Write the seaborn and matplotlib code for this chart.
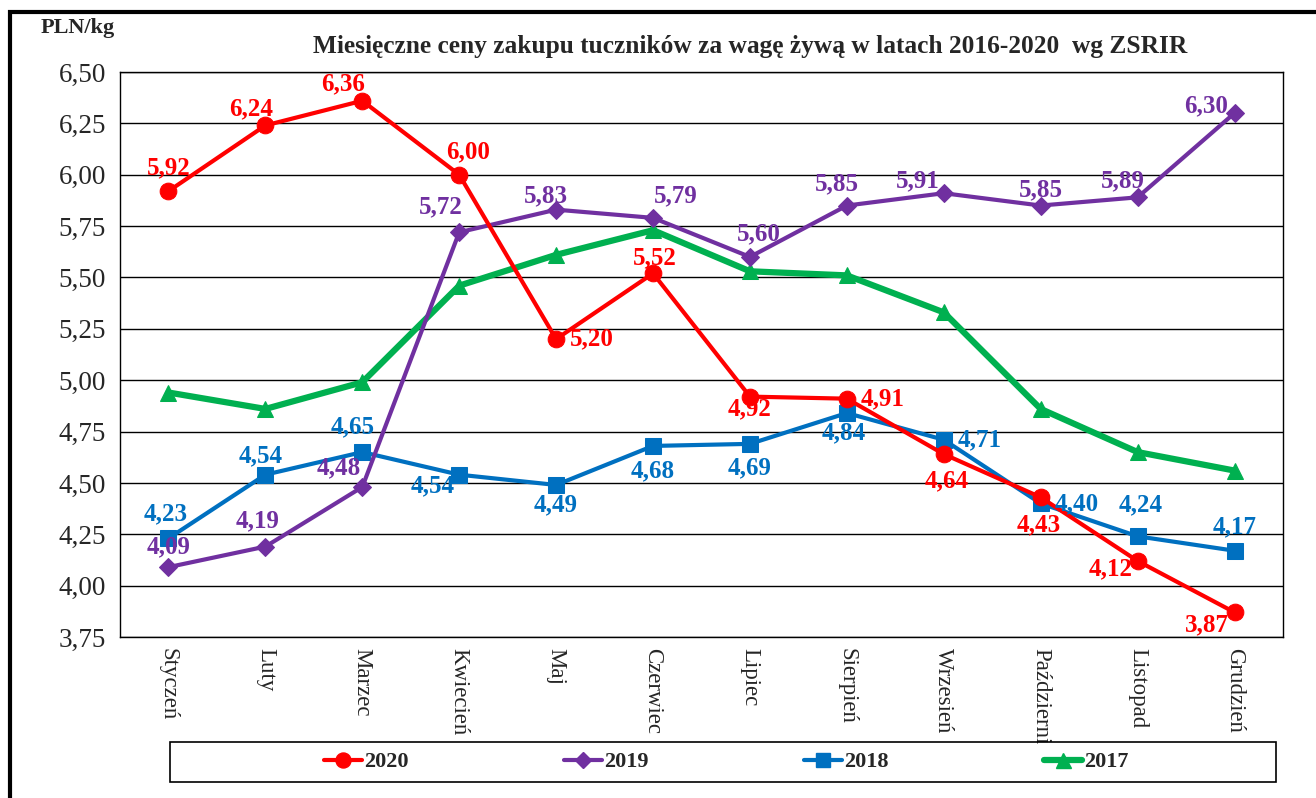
import matplotlib
matplotlib.use("Agg")
import matplotlib.pyplot as plt
import seaborn as sns
import pandas as pd
from matplotlib.ticker import FuncFormatter, FixedLocator
from matplotlib.lines import Line2D

months = ['Styczeń', 'Luty', 'Marzec', 'Kwiecień', 'Maj', 'Czerwiec', 'Lipiec',
          'Sierpień', 'Wrzesień', 'Październi', 'Listopad', 'Grudzień']
years = ['2020', '2019', '2018', '2017']
p2020 = [5.92, 6.24, 6.36, 6.00, 5.20, 5.52, 4.92, 4.91, 4.64, 4.43, 4.12, 3.87]
p2019 = [4.09, 4.19, 4.48, 5.72, 5.83, 5.79, 5.60, 5.85, 5.91, 5.85, 5.89, 6.30]
p2018 = [4.23, 4.54, 4.65, 4.54, 4.49, 4.68, 4.69, 4.84, 4.71, 4.40, 4.24, 4.17]
p2017 = [4.94, 4.86, 4.99, 5.46, 5.61, 5.73, 5.53, 5.51, 5.33, 4.86, 4.65, 4.56]

# label offsets in pixels (dx, dy up), None = no labels
off2020 = [(0, 23), (-14, 17), (-19, 17), (9, 23), (36, 0), (2, 16), (0, -12), (36, 0),
           (3, -27), (-2, -28), (-27, -8), (-28, -12)]
off2019 = [(0, 20), (-8, 26), (-24, 19), (-18, 25), (-10, 14), (23, 22), (9, 23), (-10, 22),
           (-26, 12), (0, 16), (-15, 17), (-28, 7)]
off2018 = [(-3, 25), (-5, 19), (-10, 25), (-27, -11), (0, -20), (0, -25), (0, -24), (-3, -20),
           (36, 0), (36, 0), (3, 32), (0, 24)]

series = [
    ('2020', p2020, '#FF0000', 'o', 3, 12, off2020),
    ('2019', p2019, '#7030A0', 'D', 3, 9, off2019),
    ('2018', p2018, '#0070C0', 's', 3, 11, off2018),
    ('2017', p2017, '#00B050', '^', 4.5, 12, None),
]

sns.set_style('white')
plt.rcParams['font.family'] = ['Liberation Serif', 'DejaVu Serif']

fig = plt.figure(figsize=(13.16, 7.98), dpi=100)
ax = fig.add_axes([120 / 1316, 1 - 637 / 798, 1163 / 1316, 565 / 798])

x = list(range(len(months)))
for name, vals, color, marker, lw, ms, offs in series[::-1]:
    df = pd.DataFrame({'x': x, 'y': vals})
    sns.lineplot(data=df, x='x', y='y', ax=ax, color=color, lw=lw, marker=marker,
                 markersize=ms, markeredgecolor=color, sort=False, legend=False, zorder=3)

for name, vals, color, marker, lw, ms, offs in series:
    if offs is None:
        continue
    for i, v in enumerate(vals):
        dx, dy = offs[i]
        ax.annotate(f'{v:.2f}'.replace('.', ','), (i, v), xytext=(dx * 0.72, dy * 0.72),
                    textcoords='offset points', ha='center', va='center', color=color,
                    fontsize=18, fontweight='bold', zorder=5)

ax.set_xlim(-0.5, 11.5)
ax.set_ylim(3.75, 6.5)
ax.yaxis.set_major_locator(FixedLocator([3.75 + 0.25 * k for k in range(12)]))
ax.yaxis.set_major_formatter(FuncFormatter(lambda v, p: f'{v:.2f}'.replace('.', ',')))
ax.yaxis.grid(True, color='black', lw=1)
ax.set_axisbelow(True)
ax.set_xticks(x)
ax.set_xticklabels(months, rotation=270, fontsize=16.5, va='top', ha='center')
ax.set_xticks([k - 0.5 for k in range(13)], minor=True)
ax.tick_params(axis='x', which='major', length=0, pad=8)
ax.tick_params(axis='x', which='minor', length=7, width=1, color='black', direction='out')
ax.tick_params(axis='y', length=6, width=1, color='black', direction='out', labelsize=19.5, pad=4)
ax.set_xlabel('')
ax.set_ylabel('')
for s in ['left', 'bottom', 'right', 'top']:
    ax.spines[s].set_color('black')
    ax.spines[s].set_linewidth(1)

fig.text(78 / 1316, 1 - 28 / 798, 'PLN/kg', ha='center', va='center', fontsize=16, fontweight='bold')
fig.text(750 / 1316, 1 - 47 / 798,
         'Miesięczne ceny zakupu tuczników za wagę żywą w latach 2016-2020  wg ZSRIR',
         ha='center', va='center', fontsize=18.3, fontweight='bold')

handles = [Line2D([], [], color=c, lw=lw, marker=m, markersize=ms * 0.9, markeredgecolor=c)
           for n, v, c, m, lw, ms, o in series]
leg = fig.legend(handles, years, loc='center', ncol=4,
                 bbox_to_anchor=(726 / 1316, 1 - 762 / 798),
                 prop={'weight': 'bold', 'size': 16}, frameon=False,
                 handlelength=1.7, handletextpad=0.1, columnspacing=7.0,
                 borderpad=0, borderaxespad=0)
fig.patches.append(plt.Rectangle((170 / 1316, 1 - 782 / 798), 1106 / 1316, 40 / 798,
                                 transform=fig.transFigure, fill=False, ec='black', lw=1.2))
fig.patches.append(plt.Rectangle((10 / 1316, -0.05), 1.2, 1 - 12 / 798 + 0.05,
                                 transform=fig.transFigure, fill=False, ec='black', lw=3))

fig.savefig('out.png', dpi=100)
